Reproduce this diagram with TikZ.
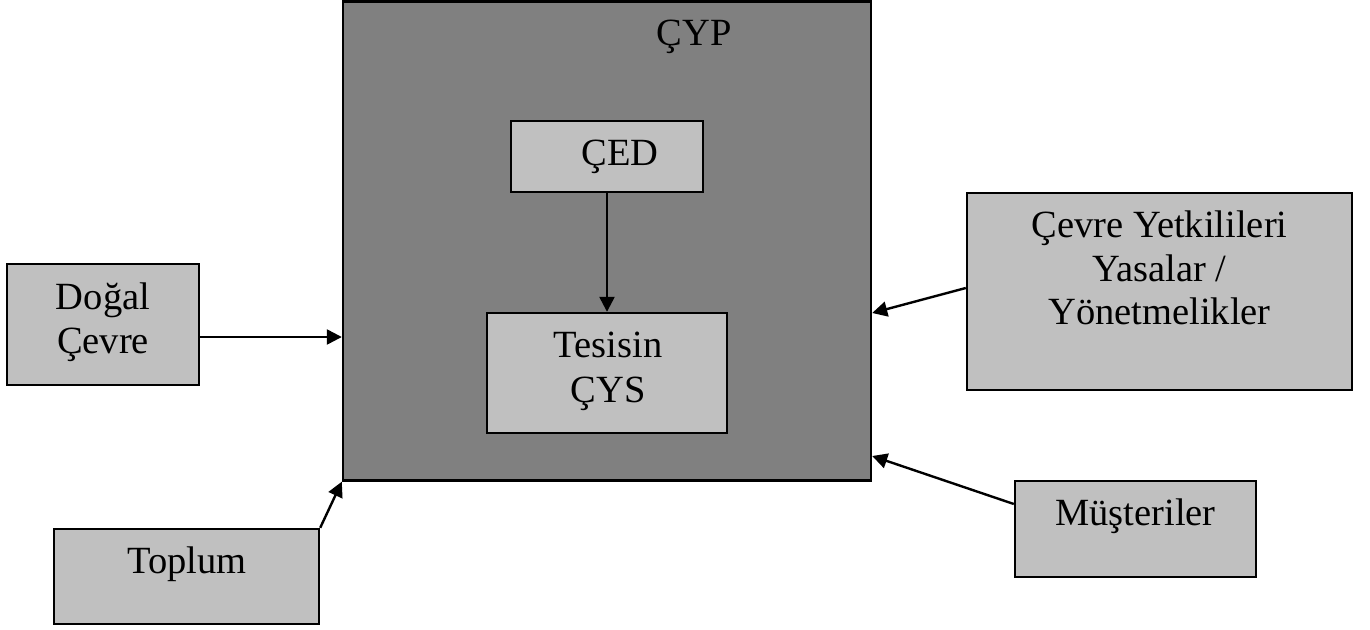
\documentclass[tikz,border=0pt]{standalone}
\usepackage{fontspec}
\setmainfont{Liberation Serif}
\usetikzlibrary{arrows.meta}
\definecolor{outergray}{RGB}{128,128,128}
\definecolor{innergray}{RGB}{192,192,192}
\begin{document}
\begin{tikzpicture}[x=1pt,y=-1pt,
  box/.style={draw=black, line width=2.4pt, fill=#1, inner sep=0pt},
  lbl/.style={anchor=base, inner sep=0pt, font=\fontsize{38.5}{44}\selectfont},
  link/.style={draw=black, line width=2.4pt, -{Triangle[length=15pt,width=15pt]}}
]
\useasboundingbox (0,0) rectangle (1370,629);

% outer frame
\node[box=outergray, minimum width=528pt, minimum height=479pt] (cyp) at (607,241) {};
\node[lbl] (cyp-t) at (694,45) {ÇYP};

% inner boxes
\node[box=innergray, minimum width=192pt, minimum height=71pt] (ced) at (607,156.5) {};
\node[lbl] (ced-t) at (620,165) {ÇED};

\node[box=innergray, minimum width=240pt, minimum height=120pt] (tes) at (607,373) {};
\node[lbl] (tes-t1) at (608,357) {Tesisin};
\node[lbl] (tes-t2) at (608,402) {ÇYS};

% surrounding boxes
\node[box=innergray, minimum width=192pt, minimum height=121pt] (dogal) at (103,324.5) {};
\node[lbl] (dogal-t1) at (103,309) {Doğal};
\node[lbl] (dogal-t2) at (103,353) {Çevre};

\node[box=innergray, minimum width=385pt, minimum height=197pt] (yet) at (1159.5,291.5) {};
\node[lbl] (yet-t1) at (1159.5,237) {Çevre Yetkilileri};
\node[lbl] (yet-t2) at (1159.5,281) {Yasalar /};
\node[lbl] (yet-t3) at (1159.5,324) {Yönetmelikler};

\node[box=innergray, minimum width=241pt, minimum height=96pt] (mus) at (1135.5,529) {};
\node[lbl] (mus-t) at (1135.5,525) {Müşteriler};

\node[box=innergray, minimum width=265pt, minimum height=95pt] (top) at (186.5,576.5) {};
\node[lbl] (top-t) at (187,573) {Toplum};

% connectors
\draw[link] (ced.south) -- (ced.south |- tes.north);
\draw[link] ([yshift=-12.5pt]dogal.east) -- ([yshift=-12.5pt]dogal.east -| cyp.west);
\draw[link] ([yshift=3.5pt]yet.west) -- ([yshift=-72pt]cyp.east);
\draw[link] ([yshift=25pt]mus.west) -- ([yshift=-215pt]cyp.east);
\draw[link] (top.north east) -- (cyp.south west);
\end{tikzpicture}
\end{document}
